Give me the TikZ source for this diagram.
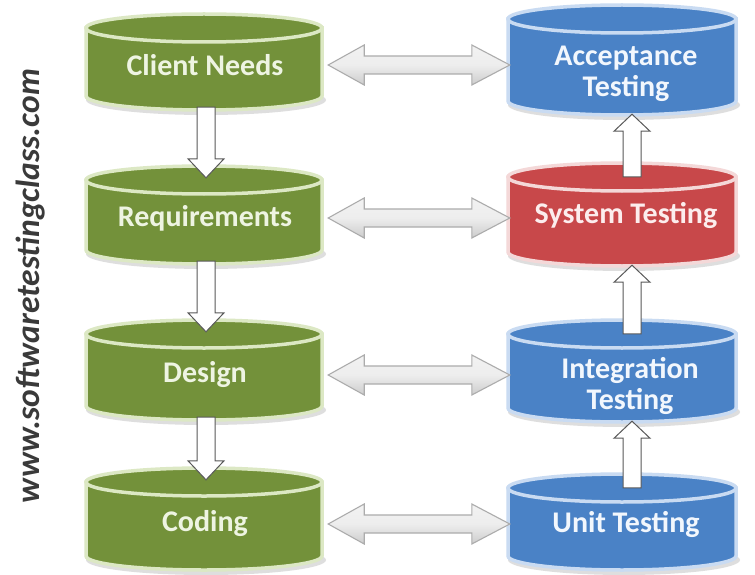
\documentclass[tikz,border=0pt]{standalone}
\usepackage{fontspec}
\setmainfont{Carlito}
\usetikzlibrary{calc}
\definecolor{grnfill}{HTML}{73913A}
\definecolor{grnrim}{HTML}{DCE8C4}
\definecolor{grntxt}{HTML}{EEF4E2}
\definecolor{blufill}{HTML}{4A82C6}
\definecolor{blurim}{HTML}{C9DBF2}
\definecolor{blutxt}{HTML}{F2F7FD}
\definecolor{redfill}{HTML}{C8484A}
\definecolor{redrim}{HTML}{F4D8D8}
\definecolor{redtxt}{HTML}{FCEDED}
\definecolor{sidetxt}{HTML}{3A3A3A}
\newcommand\drawcyl[7]{% #1 name, #2 cx, #3 top, #4 bottom, #5 half width, #6 fill, #7 rim
  \pgfmathsetmacro\cyT{-#3-14}
  \pgfmathsetmacro\cyB{-#4+14}
  \pgfmathsetmacro\cyL{#2-#5}
  \pgfmathsetmacro\cyR{#2+#5}
  \fill[black!13] (#2+2,\cyB-4) ellipse[x radius=#5+2, y radius=15];
  \path[fill=#6,draw=#7,line width=3.5pt] (\cyL,\cyT) -- (\cyL,\cyB)
     arc[start angle=180,end angle=360,x radius=#5,y radius=14] -- (\cyR,\cyT) -- cycle;
  \path[fill=#6,draw=#7,line width=3.5pt] (#2,\cyT) ellipse[x radius=#5,y radius=14];
  \node[inner sep=0,minimum width=2*#5,minimum height=#4-#3] (#1) at (#2,{-(#3+#4)/2}) {};
}
\newcommand\dblarrow[3]{% #1 left cylinder, #2 right cylinder, #3 label for height
  \path[fatarrow] let \p1=(#1.east), \p2=(#2.west), \p3=(#3) in
   (\x1+6pt,\y3) -- (\x1+42pt,\y3+20pt) -- (\x1+42pt,\y3+9pt) -- (\x2-36pt,\y3+9pt)
   -- (\x2-36pt,\y3+20pt) -- (\x2+2pt,\y3) -- (\x2-36pt,\y3-20pt) -- (\x2-36pt,\y3-9pt)
   -- (\x1+42pt,\y3-9pt) -- (\x1+42pt,\y3-20pt) -- cycle;}
\newcommand\downarr[2]{% from #1 down to #2
  \path[warrow] let \p1=(#1.south), \p2=(#2.north) in
   (\x1-7pt,\y1+3pt) -- (\x1-7pt,\y2+7pt) -- (\x1-16pt,\y2+7pt) -- (\x1+2pt,\y2-12pt)
   -- (\x1+20pt,\y2+7pt) -- (\x1+11pt,\y2+7pt) -- (\x1+11pt,\y1+3pt) -- cycle;}
\newcommand\uparr[2]{% from #1 (lower) up to #2 (upper)
  \path[warrow] let \p1=(#1.north), \p2=(#2.south) in
   (\x1+1pt,\y1-14pt) -- (\x1+1pt,\y2-16pt) -- (\x1-8pt,\y2-16pt) -- (\x1+10pt,\y2+1pt)
   -- (\x1+28pt,\y2-16pt) -- (\x1+19pt,\y2-16pt) -- (\x1+19pt,\y1-14pt) -- cycle;}
\begin{document}
\begin{tikzpicture}[x=1pt,y=1pt,
  lbl/.style={font=\bfseries\fontsize{30}{31}\selectfont, align=center, inner sep=0},
  fatarrow/.style={top color=gray!10, bottom color=gray!40, middle color=gray!14, draw=gray!65, line width=1.1pt, line join=miter},
  warrow/.style={fill=white, draw=black!65, line width=1pt, line join=miter}]
\useasboundingbox[fill=white] (0,0) rectangle (755,-575);

\node[rotate=90, font=\bfseries\itshape\fontsize{33.5}{34}\selectfont, text=sidetxt, inner sep=0] (site) at (31,-286) {www.softwaretestingclass.com};

% left column
\drawcyl{cn}{204}{14}{110}{118}{grnfill}{grnrim}
\drawcyl{rq}{204}{166}{264}{118}{grnfill}{grnrim}
\drawcyl{ds}{204}{320}{420}{118}{grnfill}{grnrim}
\drawcyl{cd}{204}{468}{570}{118}{grnfill}{grnrim}
% right column
\drawcyl{at}{622}{5}{115}{114}{blufill}{blurim}
\drawcyl{st}{622}{163}{266}{114}{redfill}{redrim}
\drawcyl{it}{622}{320}{422}{114}{blufill}{blurim}
\drawcyl{ut}{622}{474}{570}{114}{blufill}{blurim}

\node[lbl, text=grntxt] (cnl) at (205,-65) {Client Needs};
\node[lbl, text=grntxt] (rql) at (205,-218) {Requirements};
\node[lbl, text=grntxt] (dsl) at (205,-375) {Design};
\node[lbl, text=grntxt] (cdl) at (205,-524) {Coding};
\node[lbl, text=blutxt] (atl) at (626,-74) {Acceptance\\Testing};
\node[lbl, text=redtxt] (stl) at (626,-215) {System Testing};
\node[lbl, text=blutxt] (itl) at (630,-386) {Integration\\Testing};
\node[lbl, text=blutxt] (utl) at (626,-524) {Unit Testing};

\dblarrow{cn}{at}{cnl}
\dblarrow{rq}{st}{rql}
\dblarrow{ds}{it}{dsl}
\dblarrow{cd}{ut}{utl}

\downarr{cn}{rq}
\downarr{rq}{ds}
\downarr{ds}{cd}
\uparr{ut}{it}
\uparr{it}{st}
\uparr{st}{at}
\end{tikzpicture}
\end{document}
